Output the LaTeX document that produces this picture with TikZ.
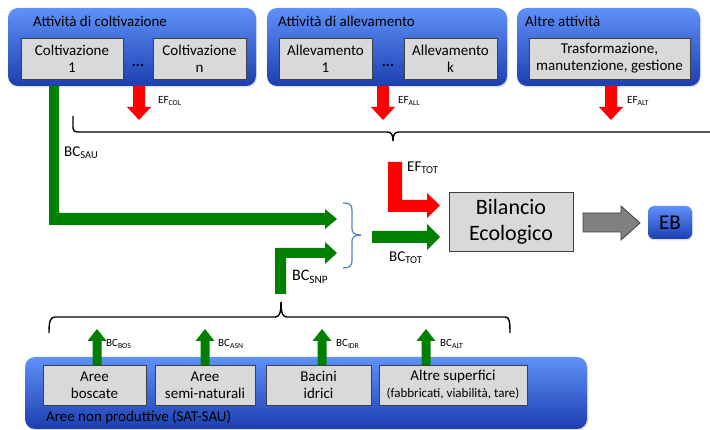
\documentclass[tikz,border=0pt]{standalone}
\usepackage{fontspec}
\setmainfont{Carlito}
\usetikzlibrary{shadows}
\definecolor{grpTop}{RGB}{95,145,250}
\definecolor{grpBot}{RGB}{28,62,175}
\definecolor{boxGray}{RGB}{217,217,217}
\definecolor{boxLine}{RGB}{64,64,64}
\definecolor{arRed}{RGB}{255,0,0}
\definecolor{arGreen}{RGB}{0,128,0}
\definecolor{arGray}{RGB}{128,128,128}
\definecolor{braceBlue}{RGB}{79,129,189}
\newcommand\myDownArrow[1]{\fill[arRed] (#1-6,86) -- (#1+6,86) -- (#1+6,107) -- (#1+12,107) -- (#1,120) -- (#1-12,107) -- (#1-6,107) -- cycle;}
\newcommand\myUpArrow[1]{\fill[arGreen] (#1-4.5,365) -- (#1-4.5,341) -- (#1-9.5,341) -- (#1,329) -- (#1+9.5,341) -- (#1+4.5,341) -- (#1+4.5,365) -- cycle;}
\begin{document}
\begin{tikzpicture}[x=1pt,y=-1pt,
  grp/.style={rounded corners=10pt, top color=grpTop, bottom color=grpBot, draw=none, inner sep=0pt,
    drop shadow={opacity=0.25,shadow xshift=1pt,shadow yshift=-1.5pt}},
  box/.style={fill=boxGray, draw=boxLine, line width=0.9pt, inner sep=0pt, align=center,
    font=\fontsize{15}{17}\selectfont},
  ttl/.style={anchor=west, inner sep=0pt, font=\fontsize{15}{17}\selectfont},
  dots/.style={inner sep=0pt, font=\fontsize{15}{17}\selectfont\bfseries},
  lblS/.style={anchor=west, inner sep=0pt, font=\fontsize{11}{13}\selectfont},
  lblL/.style={anchor=west, inner sep=0pt, font=\fontsize{15}{17}\selectfont},
  brk/.style={line width=1.4pt, black},
  bbr/.style={line width=1.2pt, braceBlue}
]
\useasboundingbox (0,0) rectangle (710,430);

% top groups
\node[grp, minimum width=248pt, minimum height=78pt] (g1) at (132,47) {};
\node[grp, minimum width=240pt, minimum height=78pt] (g2) at (387,47) {};
\node[grp, minimum width=183pt, minimum height=78pt] (g3) at (608.5,47) {};
\node[ttl] (t1) at (33,21) {Attività di coltivazione};
\node[ttl] (t2) at (278,21) {Attività di allevamento};
\node[ttl] (t3) at (525,21) {Altre attività};

\node[box, minimum width=102pt, minimum height=41pt] (c1) at (72,58.5) {Coltivazione\\1};
\node[box, minimum width=93pt, minimum height=41pt] (cn) at (199.5,58.5) {Coltivazione\\n};
\node[box, minimum width=93pt, minimum height=41pt] (a1) at (325.5,58.5) {Allevamento\\1};
\node[box, minimum width=93pt, minimum height=41pt] (ak) at (450.5,58.5) {Allevamento\\k};
\node[box, minimum width=161pt, minimum height=41pt] (tr) at (609.5,58.5) {Trasformazione,\\manutenzione, gestione};
\node[dots] (d1) at (138,65) {...};
\node[dots] (d2) at (388,65) {...};

% bottom group
\node[grp, minimum width=562pt, minimum height=72pt] (g4) at (306,393) {};
\node[ttl] (t4) at (46,417) {Aree non produttive (SAT-SAU)};
\node[box, minimum width=103pt, minimum height=40pt] (b1) at (94.5,385) {Aree\\boscate};
\node[box, minimum width=100pt, minimum height=40pt] (b2) at (205,385) {Aree\\semi-naturali};
\node[box, minimum width=105pt, minimum height=40pt] (b3) at (318.5,385) {Bacini\\idrici};
\node[box, minimum width=148pt, minimum height=40pt] (b4) at (453,385) {Altre superfici\\{\fontsize{13}{15}\selectfont (fabbricati, viabilità, tare)}};

% result boxes
\node[box, minimum width=124pt, minimum height=59pt, font=\fontsize{22}{26}\selectfont] (bil) at (511,221.5) {Bilancio\\Ecologico};
\node[rounded corners=6pt, top color=grpTop, bottom color=grpBot, inner sep=0pt,
  minimum width=44pt, minimum height=33pt, font=\fontsize{21}{24}\selectfont,
  drop shadow={opacity=0.25,shadow xshift=1pt,shadow yshift=-1.5pt}] (eb) at (670,222.5) {EB};

% red arrows down
\myDownArrow{139}
\myDownArrow{383}
\myDownArrow{611}
\node[lblS] (efcol) at (158,101) {EF\textsubscript{COL}};
\node[lblS] (efall) at (398,101) {EF\textsubscript{ALL}};
\node[lblS] (efalt) at (627,101) {EF\textsubscript{ALT}};

% top bracket
\draw[brk] (73,116) -- (73,127) .. controls (73,130.5) and (74.5,132) .. (78,132) -- (387,132) .. controls (391,132) and (393,134) .. (393,141);
\draw[brk] (393,141) .. controls (393,134) and (395,132) .. (399,132) -- (712,132);

% BC_SAU
\fill[arGreen] (49,86) -- (59,86) -- (59,213) -- (325,213) -- (325,209) -- (337,219) -- (325,229) -- (325,225) -- (49,225) -- cycle;
\node[lblL] (bcsau) at (64,153) {BC\textsubscript{SAU}};

% BC_SNP
\fill[arGreen] (275,294) -- (275,248) -- (325,248) -- (325,242) -- (337,253) -- (325,264) -- (325,258) -- (286,258) -- (286,294) -- cycle;
\node[lblL, font=\fontsize{16}{18}\selectfont] (bcsnp) at (292,277) {BC\textsubscript{SNP}};

% blue brace
\draw[bbr] (343,203) .. controls (349,203) and (352,204) .. (352,210) -- (352,229) .. controls (352,233) and (355,235) .. (361,235);
\draw[bbr] (361,235) .. controls (355,235) and (352,237) .. (352,241) -- (352,261) .. controls (352,266) and (349,268) .. (343,268);

% BC_TOT
\fill[arGreen] (372,231) -- (427,231) -- (427,224) -- (440,237) -- (427,250) -- (427,243) -- (372,243) -- cycle;
\node[lblL] (bctot) at (389,258) {BC\textsubscript{TOT}};

% EF_TOT
\fill[arRed] (388,162) -- (402,162) -- (402,200) -- (427,200) -- (427,193) -- (440,205.5) -- (427,218) -- (427,212) -- (388,212) -- cycle;
\node[lblL] (eftot) at (407,168) {EF\textsubscript{TOT}};

% gray arrow
\filldraw[fill=arGray, draw=boxLine, line width=0.8pt] (583,213) -- (621,213) -- (621,206) -- (640,223) -- (621,240) -- (621,232) -- (583,232) -- cycle;

% bottom bracket
\draw[brk] (49,333) .. controls (49,322) and (50,317) .. (55,317) -- (275,317) .. controls (279,317) and (281,314) .. (281,302);
\draw[brk] (281,302) .. controls (281,314) and (283,317) .. (287,317) -- (505,317) .. controls (509,317) and (510,320) .. (510,333);

% green arrows up
\myUpArrow{97}
\myUpArrow{205}
\myUpArrow{322}
\myUpArrow{426}
\node[lblS] (bcbos) at (106,344) {BC\textsubscript{BOS}};
\node[lblS] (bcasn) at (218,344) {BC\textsubscript{ASN}};
\node[lblS] (bcidr) at (336,344) {BC\textsubscript{IDR}};
\node[lblS] (bcalt) at (440,344) {BC\textsubscript{ALT}};
\end{tikzpicture}
\end{document}
